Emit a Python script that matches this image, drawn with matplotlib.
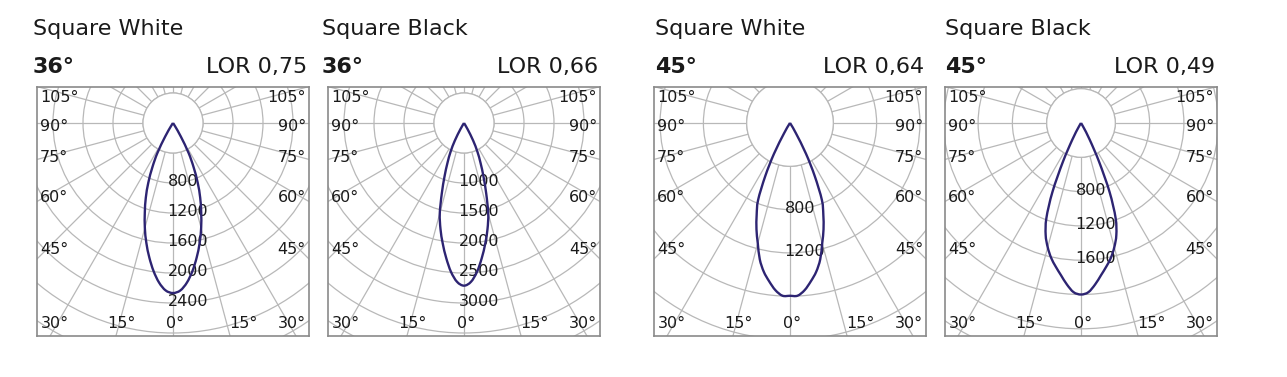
import numpy as np
import matplotlib
matplotlib.use("Agg")
import matplotlib.pyplot as plt
from matplotlib.patches import Circle, PathPatch
from matplotlib.path import Path

# ---------------- data ----------------
titles = ["Square White", "Square Black", "Square White", "Square Black"]
beam_labels = ["36°", "36°", "45°", "45°"]
lor_labels = ["LOR 0,75", "LOR 0,66", "LOR 0,64", "LOR 0,49"]

angles = [0, 2.5, 5, 7.5, 10, 12.5, 15, 17.5, 20, 22.5, 25, 27.5, 30, 32.5, 35, 90]
intensity_sw36 = [2267, 2235, 2135, 1990, 1820, 1640, 1450, 1250, 1060, 860, 650, 450, 210, 50, 0, 0]
intensity_sb36 = [2711, 2650, 2490, 2270, 2040, 1810, 1560, 1230, 950, 720, 530, 330, 120, 0, 0, 0]
intensity_sw45 = [1596, 1597, 1550, 1475, 1395, 1290, 1150, 1030, 900, 770, 540, 320, 110, 20, 0, 0]
intensity_sb45 = [2000, 1975, 1890, 1790, 1700, 1610, 1500, 1370, 1180, 870, 500, 220, 60, 0, 0, 0]
intensities = [intensity_sw36, intensity_sb36, intensity_sw45, intensity_sb45]

ring_steps = [400, 500, 400, 400]
ring_labels = [[800, 1200, 1600, 2000, 2400],
               [1000, 1500, 2000, 2500, 3000],
               [800, 1200],
               [800, 1200, 1600]]

side_angle_labels = ["105°", "90°", "75°", "60°", "45°"]
bottom_angle_labels = ["30°", "15°", "0°", "15°", "30°"]

# ---------------- layout (pixels) ----------------
W, H = 1287, 377
box_x0 = [37, 328, 654, 945]
title_x = [33, 322, 655, 945]
box_w = 272
box_top, box_bot = 87, 336
center_dy = 36
ring_px = [30, 30, 43.3, 34.3]

curve_color = "#2d2472"
grid_color = "#b8b8b8"
text_color = "#1a1a1a"
font = "DejaVu Sans"

fig = plt.figure(figsize=(W / 100, H / 100), dpi=100)
fig.patch.set_facecolor("white")

def fx(px):
    return px / W

def fy(py):
    return 1 - py / H

def smooth_path(xs, ys):
    pts = np.column_stack([xs, ys])
    keep = [0]
    for k in range(1, len(pts)):
        if np.hypot(*(pts[k] - pts[keep[-1]])) > 1e-9:
            keep.append(k)
    pts = pts[keep]
    n = len(pts)
    verts = [pts[0]]
    codes = [Path.MOVETO]
    for k in range(n - 1):
        p0 = pts[k - 1] if k > 0 else pts[k]
        p1 = pts[k]
        p2 = pts[k + 1]
        p3 = pts[k + 2] if k + 2 < n else pts[k + 1]
        c1 = p1 + (p2 - p0) / 6.0
        c2 = p2 - (p3 - p1) / 6.0
        verts += [c1, c2, p2]
        codes += [Path.CURVE4] * 3
    return Path(np.array(verts), codes)

for i in range(4):
    x0 = box_x0[i]
    ax = fig.add_axes([fx(x0), fy(box_bot), box_w / W, (box_bot - box_top) / H])
    cx_px = box_w / 2
    ppc = ring_px[i] / ring_steps[i]
    ax.set_xlim(-cx_px / ppc, cx_px / ppc)
    ax.set_ylim(-(box_bot - box_top - center_dy) / ppc, center_dy / ppc)
    ax.set_xticks([])
    ax.set_yticks([])
    for s in ax.spines.values():
        s.set_color("#8a8a8a")
        s.set_linewidth(1.2)

    step = ring_steps[i]
    for k in range(1, 14):
        ax.add_patch(Circle((0, 0), k * step, fill=False, edgecolor=grid_color,
                            linewidth=0.9, zorder=1))
    rmax = 14 * step
    for a in range(0, 360, 15):
        t = np.deg2rad(a)
        ax.plot([step * np.sin(t), rmax * np.sin(t)],
                [-step * np.cos(t), -rmax * np.cos(t)],
                color=grid_color, linewidth=0.9, zorder=1)
    ax.add_patch(Circle((0, 0), step, facecolor="white", edgecolor=grid_color,
                        linewidth=0.9, zorder=2))

    for v in ring_labels[i]:
        ax.text(-5.5 / ppc, -v + 1.5 / ppc, str(v), ha="left", va="center",
                fontsize=11.5, color=text_color, family=font, zorder=3)

    side_dy = [25.5, -3.7, -35, -75, -126]
    for lab, dy in zip(side_angle_labels, side_dy):
        ax.text((-cx_px + 3) / ppc, dy / ppc, lab, ha="left", va="center",
                fontsize=11.5, color=text_color, family=font, zorder=3)
        ax.text((cx_px - 3) / ppc, dy / ppc, lab, ha="right", va="center",
                fontsize=11.5, color=text_color, family=font, zorder=3)
    bdy = -200
    ax.text((-cx_px + 4) / ppc, bdy / ppc, bottom_angle_labels[0], ha="left", va="center",
            fontsize=11.5, color=text_color, family=font, zorder=3)
    ax.text(-52 / ppc, bdy / ppc, bottom_angle_labels[1], ha="center", va="center",
            fontsize=11.5, color=text_color, family=font, zorder=3)
    ax.text(2 / ppc, bdy / ppc, bottom_angle_labels[2], ha="center", va="center",
            fontsize=11.5, color=text_color, family=font, zorder=3)
    ax.text(70 / ppc, bdy / ppc, bottom_angle_labels[3], ha="center", va="center",
            fontsize=11.5, color=text_color, family=font, zorder=3)
    ax.text((cx_px - 3) / ppc, bdy / ppc, bottom_angle_labels[4], ha="right", va="center",
            fontsize=11.5, color=text_color, family=font, zorder=3)

    th = np.deg2rad(np.array(angles, dtype=float))
    I = np.array(intensities[i], dtype=float)
    th_full = np.concatenate([-th[::-1], th[1:]])
    I_full = np.concatenate([I[::-1], I[1:]])
    path = smooth_path(I_full * np.sin(th_full), -I_full * np.cos(th_full))
    ax.add_patch(PathPatch(path, facecolor="none", edgecolor=curve_color,
                           linewidth=1.7, zorder=4, joinstyle="round"))

    fig.text(fx(title_x[i]), fy(35), titles[i], ha="left", va="baseline",
             fontsize=16, color=text_color, family=font)
    fig.text(fx(title_x[i]), fy(73), beam_labels[i], ha="left", va="baseline",
             fontsize=16, fontweight="bold", color=text_color, family=font)
    fig.text(fx(x0 + box_w - 2), fy(73), lor_labels[i], ha="right", va="baseline",
             fontsize=16, color=text_color, family=font)

fig.savefig("out.png", dpi=100, facecolor="white")
